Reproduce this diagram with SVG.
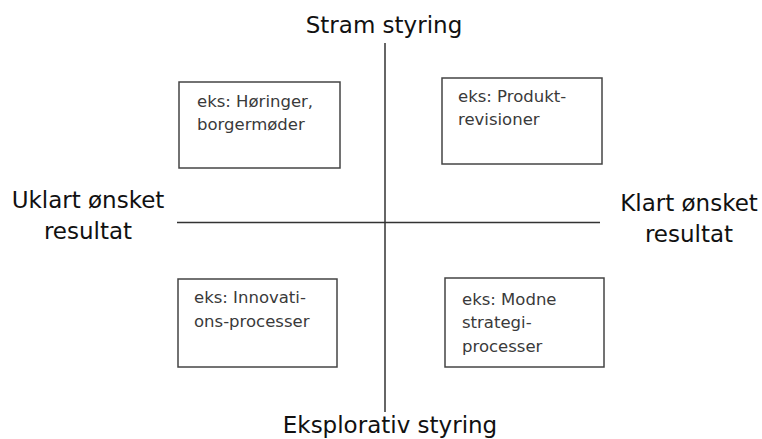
<svg xmlns="http://www.w3.org/2000/svg" width="762" height="439" viewBox="0 0 762 439">
<style>
.box{fill:#fff;stroke:#444;stroke-width:1.5}
.axis{stroke:#333;stroke-width:1.5;fill:none}
.t{font-family:"DejaVu Sans",Verdana,sans-serif;font-size:16.5px;fill:#3a3a3a}
.lbl{font-family:"DejaVu Sans",Verdana,sans-serif;font-size:23px;fill:#111;text-anchor:middle}
</style>
<rect width="762" height="439" fill="#fff"/>
<g id="connectors">
<line class="axis" x1="385" y1="43" x2="385" y2="412"/>
<line class="axis" x1="177" y1="222.5" x2="600" y2="222.5"/>
</g>
<g id="top-label"><text class="lbl" x="384" y="33">Stram styring</text></g>
<g id="bottom-label"><text class="lbl" x="390" y="433">Eksplorativ styring</text></g>
<g id="left-label"><text class="lbl" x="88" y="208">Uklart ønsket</text><text class="lbl" x="88" y="239">resultat</text></g>
<g id="right-label"><text class="lbl" x="689" y="211">Klart ønsket</text><text class="lbl" x="689" y="242">resultat</text></g>
<g id="box-tl"><rect class="box" x="179" y="82" width="161" height="86"/><text class="t" x="197" y="107">eks: Høringer,</text><text class="t" x="197" y="130">borgermøder</text></g>
<g id="box-tr"><rect class="box" x="442" y="78" width="160" height="86"/><text class="t" x="458" y="102">eks: Produkt-</text><text class="t" x="458" y="125">revisioner</text></g>
<g id="box-bl"><rect class="box" x="178" y="279" width="159" height="88"/><text class="t" x="194" y="303">eks: Innovati-</text><text class="t" x="194" y="327">ons-processer</text></g>
<g id="box-br"><rect class="box" x="445" y="278" width="159" height="89"/><text class="t" x="462" y="305">eks: Modne</text><text class="t" x="462" y="328">strategi-</text><text class="t" x="462" y="352">processer</text></g>
</svg>
